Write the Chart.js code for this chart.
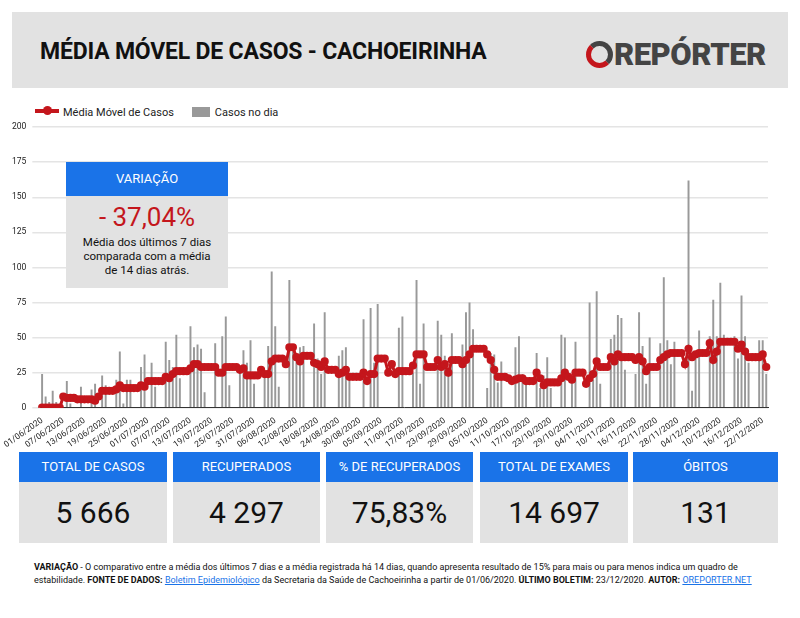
<!DOCTYPE html>
<html><head><meta charset="utf-8">
<script src="https://cdn.jsdelivr.net/npm/chart.js@4"></script>
<style>
body{margin:0;width:800px;height:618px;background:#fff;font-family:Roboto,sans-serif;position:relative;overflow:hidden}
#hdr{position:absolute;left:12px;top:12px;width:776px;height:76px;background:#e2e2e2}
#hdr h1{position:absolute;left:28px;top:26px;margin:0;font-size:23px;font-weight:700;color:#111;letter-spacing:-0.2px}
#logo{position:absolute;left:574px;top:24px;font-size:31px;font-weight:900;color:#444;font-family:Roboto,sans-serif;letter-spacing:-0.5px}
#logo span{display:inline-block;width:17px;height:17px;border:5px solid #444;border-radius:50%;vertical-align:-3px;position:relative;margin-right:1px;border-bottom-color:#c4161c;border-left-color:#c4161c}
#legend{position:absolute;left:35px;top:106px;font-size:11px;color:#222}
#legend .l{display:inline-block;width:24px;height:4px;background:#c4161c;vertical-align:3px;position:relative;margin-right:4px}
#legend .l:after{content:"";position:absolute;left:8px;top:-3px;width:9px;height:9px;border-radius:50%;background:#c4161c}
#legend .b{display:inline-block;width:18px;height:10px;background:#999;vertical-align:-1px;margin:0 5px 0 18px}
#cv{position:absolute;left:0;top:116px}
#var{position:absolute;left:66px;top:162px;width:162px;height:126px;background:#e2e2e2;text-align:center}
#var .h{background:#1a73e8;color:#fff;height:34px;line-height:34px;font-size:13px}
#var .p{color:#c4161c;font-size:26px;margin-top:6px}
#var .t{font-size:11.5px;color:#111;line-height:14px;margin-top:3px}
.box{position:absolute;top:452px;height:91px;background:#e2e2e2;text-align:center}
.box .h{background:#1a73e8;color:#fff;height:30px;line-height:30px;font-size:13px}
.box .v{font-size:30px;color:#111;line-height:61px}
#foot{position:absolute;left:34px;top:561px;width:750px;font-size:9px;line-height:13px;color:#111}
#foot a{color:#1a73e8;text-decoration:underline}
</style></head><body>
<div id="hdr"><h1>MÉDIA MÓVEL DE CASOS - CACHOEIRINHA</h1><div id="logo"><span></span>REPÓRTER</div></div>
<div id="legend"><span class="l"></span>Média Móvel de Casos<span class="b"></span>Casos no dia</div>
<canvas id="cv" width="790" height="334"></canvas>
<div id="var"><div class="h">VARIAÇÃO</div><div class="p">- 37,04%</div><div class="t">Média dos últimos 7 dias<br>comparada com a média<br>de 14 dias atrás.</div></div>
<div class="box" style="left:19px;width:148px"><div class="h">TOTAL DE CASOS</div><div class="v">5 666</div></div>
<div class="box" style="left:173px;width:147px"><div class="h">RECUPERADOS</div><div class="v">4 297</div></div>
<div class="box" style="left:326px;width:147px"><div class="h">% DE RECUPERADOS</div><div class="v">75,83%</div></div>
<div class="box" style="left:480px;width:148px"><div class="h">TOTAL DE EXAMES</div><div class="v">14 697</div></div>
<div class="box" style="left:633px;width:145px"><div class="h">ÓBITOS</div><div class="v">131</div></div>
<div id="foot"><b>VARIAÇÃO</b> - O comparativo entre a média dos últimos 7 dias e a média registrada há 14 dias, quando apresenta resultado de 15% para mais ou para menos indica um quadro de estabilidade. <b>FONTE DE DADOS:</b> <a>Boletim Epidemiológico</a> da Secretaria da Saúde de Cachoeirinha a partir de 01/06/2020. <b>ÚLTIMO BOLETIM:</b> 23/12/2020. <b>AUTOR:</b> <a>OREPORTER.NET</a></div>
<script>
const startDate = "2020-06-01";
const dayCount = 206;
const casos = [24,8,4,12,4,0,0,19,3,0,0,15,0,0,13,17,0,23,16,0,0,20,40,3,20,20,0,0,29,38,0,32,15,0,0,47,34,29,52,21,0,0,58,43,45,42,11,0,0,46,0,51,65,16,0,0,27,41,32,48,17,0,0,25,44,97,58,15,0,0,91,40,35,43,44,0,0,60,35,24,68,0,0,0,37,41,43,23,0,0,0,63,0,71,32,74,0,0,0,0,0,57,65,0,0,25,91,17,60,0,0,0,62,52,37,28,53,0,0,45,68,75,56,0,0,0,14,39,38,18,33,0,0,0,43,51,24,17,0,0,39,14,23,36,14,0,0,52,50,0,20,47,0,0,0,75,20,83,17,0,0,49,52,66,64,27,0,0,24,68,44,17,50,0,0,46,93,48,31,47,0,0,0,162,12,35,55,0,0,51,77,51,89,52,0,0,51,35,80,51,32,0,0,48,48,24];
const media = [0,0,0,0,0,0,8,7,7,7,6,6,6,6,6,5,8,12,12,12,12,13,16,14,14,14,14,14,16,15,19,19,19,19,19,22,21,24,26,26,26,26,28,31,31,29,29,29,29,29,25,25,29,29,29,29,27,28,23,23,23,23,27,24,24,33,35,35,35,31,43,43,36,33,37,37,37,32,31,29,33,27,27,27,24,25,27,22,22,22,22,25,19,24,24,35,35,35,25,31,24,26,26,26,26,30,38,38,38,29,29,29,34,29,31,25,34,34,34,31,34,38,42,42,42,42,38,34,27,22,22,22,21,19,20,21,21,19,19,19,25,21,16,18,18,18,18,21,25,22,20,25,25,25,17,21,24,33,29,29,29,36,33,38,36,36,36,36,34,36,33,26,29,29,29,34,36,38,39,39,39,39,31,42,36,38,39,39,39,46,34,40,47,47,47,47,47,42,45,40,36,36,36,36,38,29];
const yTicks = [0,25,50,75,100,125,150,175,200];
const labels = [];
{const d0=new Date(startDate+"T12:00:00Z");for(let i=0;i<dayCount;i++){const d=new Date(d0.getTime()+i*86400000);labels.push(String(d.getUTCDate()).padStart(2,"0")+"/"+String(d.getUTCMonth()+1).padStart(2,"0")+"/"+d.getUTCFullYear());}}
new Chart(document.getElementById("cv"),{
 data:{labels,datasets:[
  {type:"line",data:media,borderColor:"#c4161c",backgroundColor:"#c4161c",borderWidth:3,pointRadius:2.6,pointHoverRadius:2.6,tension:0,order:0},
  {type:"bar",data:casos,backgroundColor:"#999",barPercentage:0.55,categoryPercentage:1,order:1}
 ]},
 options:{responsive:false,animation:false,layout:{padding:{top:4,right:22,left:6}},
  plugins:{legend:{display:false},tooltip:{enabled:false}},
  scales:{
   x:{grid:{display:false},border:{color:"#333"},ticks:{autoSkip:false,maxRotation:35,minRotation:35,color:"#222",font:{size:8.5,family:"Roboto"},padding:0,
      callback:(v,i)=>i%6===0?labels[i]:null}},
   y:{min:0,max:200,afterBuildTicks:a=>{a.ticks=yTicks.map(v=>({value:v}));},border:{display:false},grid:{color:"#e4e4e4",lineWidth:1.5},ticks:{color:"#222",font:{size:8.5,family:"Roboto"},padding:6}}
  }}
});
</script></body></html>
